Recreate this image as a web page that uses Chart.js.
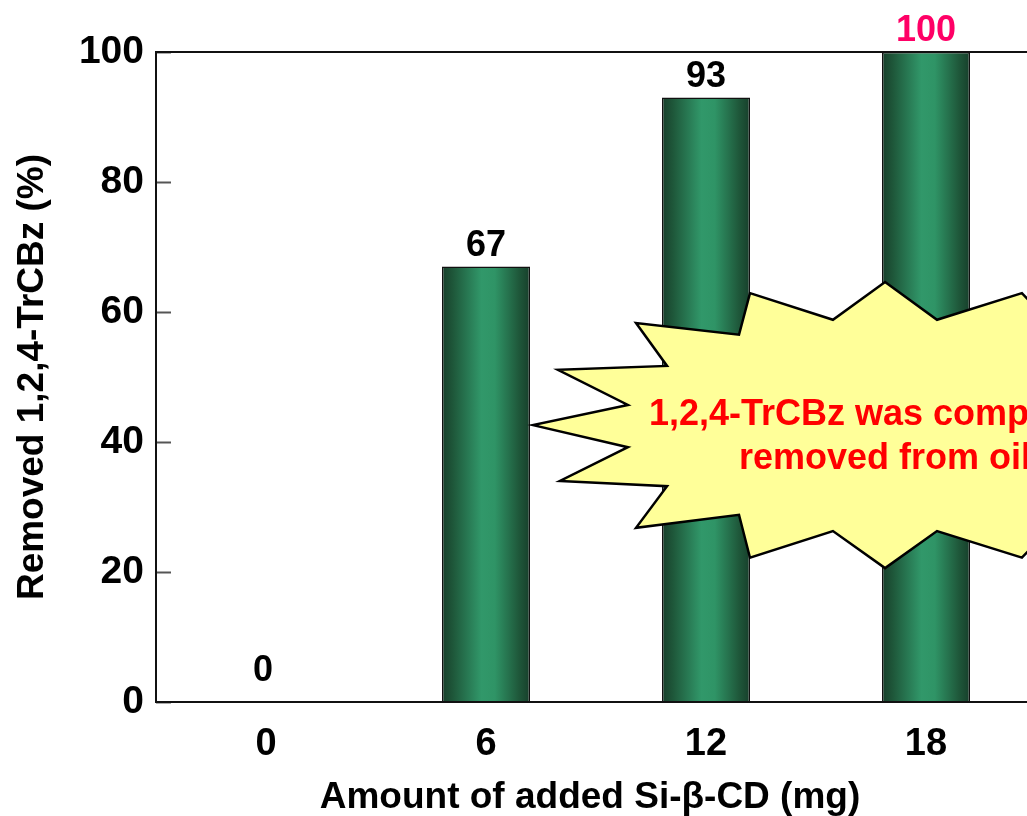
<!DOCTYPE html>
<html>
<head>
<meta charset="utf-8">
<script src="https://cdn.jsdelivr.net/npm/chart.js@4.4.1/dist/chart.umd.min.js"></script>
<style>
  html, body { margin: 0; padding: 0; background: #ffffff; overflow: hidden; }
  #wrap { width: 1050px; height: 816px; }
</style>
</head>
<body>
<div id="wrap"><canvas id="chart" width="1050" height="816"></canvas></div>
<script>
// ======================================================
// Data
// ======================================================

const amounts = ["0", "6", "12", "18"];

const removed = [0, 67, 93, 100];

const yTicks = [0, 20, 40, 60, 80, 100];

const xTitle = "Amount of added Si-\u03B2-CD (mg)";

const yTitle = "Removed 1,2,4-TrCBz (%)";

const calloutLines = ["1,2,4-TrCBz was completely", "removed from oil"];

// starburst outline in axis units (category index, percent)
const burstX = [2.2, 2.577, 2.814, 3.05, 3.436, 3.8, 3.8, 3.436, 3.05, 2.814, 2.577, 2.2, 2.15,
    1.682, 1.823, 1.336, 1.645, 1.214, 1.645, 1.327, 1.823, 1.682, 2.15];
const burstY = [62.9, 58.8, 64.6, 58.8, 62.9, 50, 35, 22.2, 26.3, 20.6, 26.3, 22.2, 28.8,
    26.8, 33.2, 34.0, 39.2, 42.6, 45.7, 51.1, 51.7, 58.3, 56.5];

// ======================================================
// Styles
// ======================================================

const FONT = "'Liberation Sans', Arial, Helvetica, sans-serif";

function barGradient(ctx) {
    const chart = ctx.chart;
    const xs = chart.scales.x;
    if (!xs || !chart.chartArea) return "#2e9565";
    const cx = xs.getPixelForValue(ctx.dataIndex);
    const w = xs.width / amounts.length * 0.4;
    const g = chart.ctx.createLinearGradient(cx - w / 2, 0, cx + w / 2, 0);
    g.addColorStop(0, "#173f2b");
    g.addColorStop(0.12, "#1e5639");
    g.addColorStop(0.45, "#31986a");
    g.addColorStop(0.6, "#2f9466");
    g.addColorStop(0.88, "#1e5639");
    g.addColorStop(1, "#173f2b");
    return g;
}

// ======================================================
// Plugins
// ======================================================

const framePlugin = {
    id: "frame",
    beforeDatasetsDraw(chart) {
        const { ctx, chartArea: a, scales: { y } } = chart;
        ctx.save();
        ctx.strokeStyle = "#555555";
        ctx.lineWidth = 2;
        yTicks.forEach(v => {
            const py = Math.round(y.getPixelForValue(v)) + 0.5;
            ctx.beginPath();
            ctx.moveTo(a.left, py);
            ctx.lineTo(a.left + 15, py);
            ctx.stroke();
        });
        ctx.restore();
    },
    afterDatasetsDraw(chart) {
        const { ctx, chartArea: a } = chart;
        ctx.save();
        ctx.strokeStyle = "#111111";
        ctx.lineWidth = 2;
        ctx.strokeRect(a.left, a.top, a.right - a.left, a.bottom - a.top);
        ctx.restore();
    }
};

const calloutPlugin = {
    id: "callout",
    afterDatasetsDraw(chart) {
        const { ctx, scales: { x, y } } = chart;
        ctx.save();
        ctx.beginPath();
        burstX.forEach((bx, i) => {
            const px = x.getPixelForValue(bx);
            const py = y.getPixelForValue(burstY[i]);
            if (i === 0) ctx.moveTo(px, py); else ctx.lineTo(px, py);
        });
        ctx.closePath();
        ctx.fillStyle = "#ffff99";
        ctx.fill();
        ctx.lineWidth = 2.5;
        ctx.lineJoin = "miter";
        ctx.strokeStyle = "#000000";
        ctx.stroke();

        ctx.fillStyle = "#ff0000";
        ctx.font = "bold 36px " + FONT;
        ctx.textAlign = "center";
        ctx.textBaseline = "alphabetic";
        const cx = x.getPixelForValue(2.814);
        ctx.fillText(calloutLines[0], cx, y.getPixelForValue(42.6));
        ctx.fillText(calloutLines[1], cx, y.getPixelForValue(35.8));
        ctx.restore();
    }
};

const labelPlugin = {
    id: "valueLabels",
    afterDraw(chart) {
        const { ctx, chartArea: a } = chart;
        const meta = chart.getDatasetMeta(0);
        ctx.save();
        ctx.font = "bold 36px " + FONT;
        ctx.textAlign = "center";
        ctx.textBaseline = "alphabetic";
        meta.data.forEach((bar, i) => {
            ctx.fillStyle = removed[i] >= 100 ? "#ff0066" : "#000000";
            const gap = removed[i] === 0 ? 21 : 11;
            ctx.fillText(String(removed[i]), bar.x - (removed[i] === 0 ? 3 : 0), bar.y - gap);
        });

        // x axis title
        ctx.fillStyle = "#000000";
        ctx.font = "bold 37px " + FONT;
        ctx.textBaseline = "middle";
        ctx.fillText(xTitle, (a.left + a.right) / 2 - 6, 798);
        ctx.restore();
    }
};

// ======================================================
// Chart
// ======================================================

new Chart(

    document.getElementById("chart"),

    {

        type: "bar",

        data: {

            labels: amounts,

            datasets: [

                {

                    data: removed,

                    backgroundColor: barGradient,

                    borderColor: "#111111",

                    borderWidth: 1.5,

                    borderSkipped: "bottom",

                    barPercentage: 0.5,

                    categoryPercentage: 0.8

                }

            ]

        },

        options: {

            responsive: false,

            animation: false,

            layout: {

                padding: { top: 52, right: 14, left: 0, bottom: 0 }

            },

            plugins: {

                legend: { display: false },

                tooltip: { enabled: false }

            },

            scales: {

                x: {

                    grid: { display: false, drawTicks: false },

                    border: { display: false },

                    ticks: {

                        color: "#000000",

                        padding: 20,

                        font: { family: FONT, size: 38, weight: "bold" }

                    },

                    afterFit(scale) { scale.height = 114; }

                },

                y: {

                    min: 0,

                    max: 100,

                    grid: { display: false, drawTicks: false },

                    border: { display: false },

                    ticks: {

                        stepSize: 20,

                        color: "#000000",

                        padding: 12,

                        font: { family: FONT, size: 39, weight: "bold" }

                    },

                    title: {

                        display: true,

                        text: yTitle,

                        color: "#000000",

                        padding: { top: 11, bottom: 0 },

                        font: { family: FONT, size: 37, weight: "bold" }

                    },

                    afterFit(scale) { scale.width = 156; }

                }

            }

        },

        plugins: [framePlugin, calloutPlugin, labelPlugin]

    }

);
</script>
</body>
</html>
